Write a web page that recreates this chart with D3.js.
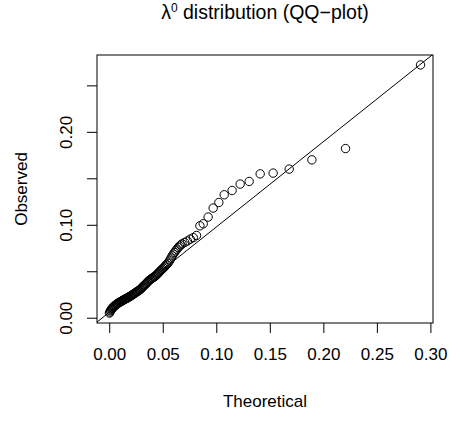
<!DOCTYPE html>
<html>
<head>
<meta charset="utf-8">
<script src="https://cdn.jsdelivr.net/npm/d3@7"></script>
<style>
  html, body { margin: 0; padding: 0; background: #ffffff; }
  svg { display: block; }
  text { font-family: "Liberation Sans", Arial, Helvetica, sans-serif; fill: #000; }
</style>
</head>
<body>
<svg id="chart" width="450" height="423"></svg>
<script>
// ---- data ----
const theoretical = [
  0.0002, 0.0007, 0.0012, 0.0017, 0.0022, 0.0027, 0.0032, 0.0037, 0.0042, 0.0047,
  0.0053, 0.0058, 0.0064, 0.0069, 0.0075, 0.0080, 0.0086, 0.0092, 0.0098, 0.0104,
  0.0110, 0.0116, 0.0122, 0.0128, 0.0134, 0.0140, 0.0147, 0.0153, 0.0160, 0.0166,
  0.0173, 0.0180, 0.0186, 0.0193, 0.0199, 0.0206, 0.0213, 0.0220, 0.0227, 0.0234,
  0.0241, 0.0248, 0.0255, 0.0262, 0.0270, 0.0277, 0.0285, 0.0292, 0.0300, 0.0307,
  0.0315, 0.0323, 0.0331, 0.0339, 0.0347, 0.0355, 0.0363, 0.0371, 0.0380, 0.0388,
  0.0397, 0.0405, 0.0414, 0.0423, 0.0432, 0.0441, 0.0450, 0.0459, 0.0468, 0.0477,
  0.0487, 0.0496, 0.0506, 0.0516, 0.0526, 0.0536, 0.0546, 0.0556, 0.0567, 0.0577,
  0.0588, 0.0599, 0.0610, 0.0621, 0.0633, 0.0644, 0.0656, 0.0668, 0.0680, 0.0705,
  0.0730, 0.0757, 0.0785, 0.0815,
  0.0847, 0.0878, 0.0924, 0.0971, 0.1024, 0.1074, 0.1148, 0.1223, 0.1307, 0.1410,
  0.1531, 0.1681, 0.1893, 0.2207, 0.2908
];
const observed = [
  0.0050, 0.0062, 0.0075, 0.0084, 0.0092, 0.0100, 0.0106, 0.0112, 0.0118, 0.0124,
  0.0130, 0.0135, 0.0140, 0.0145, 0.0150, 0.0154, 0.0158, 0.0163, 0.0167, 0.0171,
  0.0175, 0.0179, 0.0183, 0.0187, 0.0191, 0.0195, 0.0199, 0.0203, 0.0207, 0.0211,
  0.0215, 0.0220, 0.0224, 0.0229, 0.0233, 0.0238, 0.0243, 0.0249, 0.0255, 0.0260,
  0.0266, 0.0271, 0.0277, 0.0282, 0.0288, 0.0294, 0.0300, 0.0307, 0.0315, 0.0325,
  0.0335, 0.0343, 0.0352, 0.0361, 0.0370, 0.0380, 0.0390, 0.0399, 0.0408, 0.0415,
  0.0422, 0.0428, 0.0435, 0.0442, 0.0450, 0.0460, 0.0470, 0.0481, 0.0492, 0.0503,
  0.0515, 0.0525, 0.0535, 0.0547, 0.0560, 0.0572, 0.0585, 0.0600, 0.0620, 0.0642,
  0.0665, 0.0685, 0.0703, 0.0720, 0.0738, 0.0755, 0.0770, 0.0783, 0.0795, 0.0810,
  0.0825, 0.0846, 0.0862, 0.0885,
  0.0989, 0.1011, 0.1083, 0.1180, 0.1240, 0.1323, 0.1369, 0.1438, 0.1466, 0.1548,
  0.1556, 0.1599, 0.1699, 0.1820, 0.2720
];
const xTicks = [0.00, 0.05, 0.10, 0.15, 0.20, 0.25, 0.30];
const yTicks = [0.00, 0.05, 0.10, 0.15, 0.20, 0.25];
const yTickLabels = ["0.00", "", "0.10", "", "0.20", ""];
const refLine = { intercept: 0.0058, slope: 0.918 };
const titleMain = "λ";
const titleSup = "0";
const titleRest = " distribution (QQ\u2212plot)";
const xLabel = "Theoretical";
const yLabel = "Observed";

// ---- layout ----
const plot = { left: 97, right: 433, top: 55, bottom: 323 };
const svg = d3.select("#chart");

function padded(ext) {
  const r = ext[1] - ext[0];
  return [ext[0] - 0.04 * r, ext[1] + 0.04 * r];
}
const x = d3.scaleLinear().domain(padded(d3.extent(theoretical))).range([plot.left, plot.right]);
const y = d3.scaleLinear().domain(padded(d3.extent(observed))).range([plot.bottom, plot.top]);

const pts = theoretical.map((t, i) => ({ t, o: observed[i] }));

// clip for reference line
svg.append("defs").append("clipPath").attr("id", "clip")
  .append("rect")
  .attr("x", plot.left).attr("y", plot.top)
  .attr("width", plot.right - plot.left).attr("height", plot.bottom - plot.top);

// points
svg.append("g")
  .selectAll("circle")
  .data(pts)
  .join("circle")
  .attr("cx", d => x(d.t))
  .attr("cy", d => y(d.o))
  .attr("r", 4.2)
  .attr("fill", "none")
  .attr("stroke", "#000")
  .attr("stroke-width", 1);

// reference line
const xd = x.domain();
svg.append("line")
  .attr("clip-path", "url(#clip)")
  .attr("x1", x(xd[0])).attr("y1", y(refLine.intercept + refLine.slope * xd[0]))
  .attr("x2", x(xd[1])).attr("y2", y(refLine.intercept + refLine.slope * xd[1]))
  .attr("stroke", "#000").attr("stroke-width", 1);

// box
svg.append("rect")
  .attr("x", plot.left).attr("y", plot.top)
  .attr("width", plot.right - plot.left).attr("height", plot.bottom - plot.top)
  .attr("fill", "none").attr("stroke", "#000").attr("stroke-width", 1);

// x axis
const xAxis = d3.axisBottom(x).tickValues(xTicks).tickFormat(d3.format(".2f"))
  .tickSizeInner(10).tickSizeOuter(0).tickPadding(15);
const gx = svg.append("g").attr("transform", `translate(0,${plot.bottom})`).call(xAxis);
gx.select(".domain").remove();
gx.selectAll("line").attr("stroke", "#000");
gx.selectAll("text").attr("font-size", 17).attr("fill", "#000")
  .attr("font-family", "Liberation Sans, Arial, sans-serif");

// y axis
const yAxis = d3.axisLeft(y).tickValues(yTicks).tickFormat((d, i) => yTickLabels[i])
  .tickSizeInner(10).tickSizeOuter(0).tickPadding(14);
const gy = svg.append("g").attr("transform", `translate(${plot.left},0)`).call(yAxis);
gy.select(".domain").remove();
gy.selectAll("line").attr("stroke", "#000");
gy.selectAll("text")
  .attr("font-size", 17).attr("fill", "#000")
  .attr("font-family", "Liberation Sans, Arial, sans-serif")
  .attr("text-anchor", "middle")
  .attr("dy", 0)
  .attr("x", 0)
  .attr("transform", "translate(-25,0) rotate(-90)");

// axis titles
svg.append("text")
  .attr("x", (plot.left + plot.right) / 2).attr("y", 407)
  .attr("text-anchor", "middle").attr("font-size", 17)
  .text(xLabel);
svg.append("text")
  .attr("transform", `translate(27,${(plot.top + plot.bottom) / 2}) rotate(-90)`)
  .attr("text-anchor", "middle").attr("font-size", 17)
  .text(yLabel);

// main title
const title = svg.append("text")
  .attr("x", (plot.left + plot.right) / 2).attr("y", 19)
  .attr("text-anchor", "middle").attr("font-size", 19.5);
title.append("tspan").text(titleMain);
title.append("tspan").attr("font-size", 12).attr("dy", -7).text(titleSup);
title.append("tspan").attr("dy", 7).text(titleRest);
</script>
</body>
</html>
